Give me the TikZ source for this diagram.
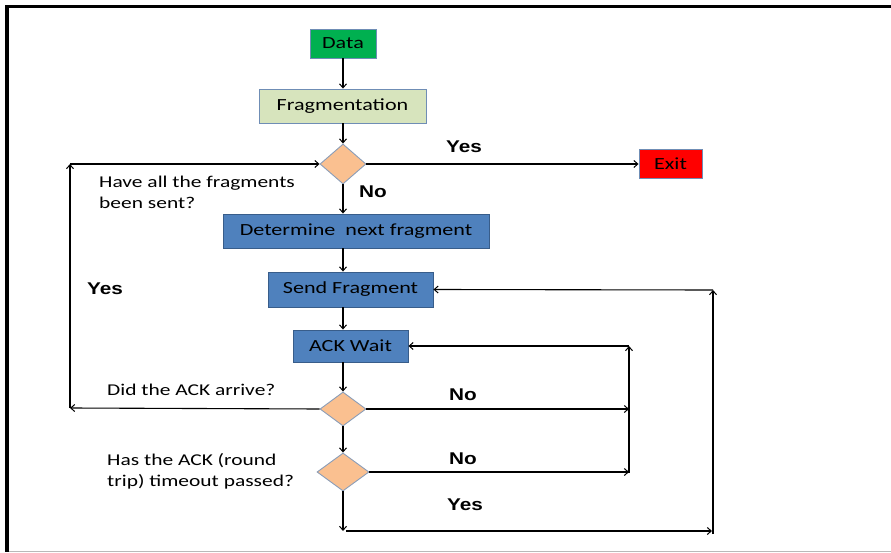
\documentclass[tikz,border=0pt]{standalone}
\usepackage{fontspec}
\setmainfont[FakeStretch=1.3]{Carlito}
\newfontfamily\labfont[FakeStretch=1.22]{Liberation Sans}
\usetikzlibrary{arrows.meta,shapes.geometric}
\definecolor{cgreen}{HTML}{00B050}
\definecolor{clight}{HTML}{D7E4BD}
\definecolor{cred}{HTML}{FF0000}
\definecolor{cblue}{HTML}{4F81BD}
\definecolor{cblueb}{HTML}{385D8A}
\definecolor{corange}{HTML}{FAC090}
\definecolor{cgrayb}{HTML}{8A9DB8}
\definecolor{cboxb}{HTML}{6F8DB5}
\tikzset{
  box/.style={draw=cboxb, line width=0.9pt, inner sep=0pt, text=black},
  bluebox/.style={box, draw=cblueb, fill=cblue},
  dec/.style={diamond, draw=cgrayb, line width=0.9pt, fill=corange, inner sep=0pt},
  arr/.style={line width=1.1pt, -{Straight Barb[length=4pt,width=7pt,line width=1pt]}},
  ln/.style={line width=1.1pt},
  yn/.style={font=\labfont\bfseries\fontsize{17}{20}\selectfont, inner sep=0pt},
  lbl/.style={anchor=west, align=left, inner sep=0pt, font=\fontsize{16.5}{21}\selectfont}
}
\begin{document}
\begin{tikzpicture}[x=1pt,y=-1pt,font=\fontsize{17}{21}\selectfont]
\useasboundingbox (0,0) rectangle (891,553);
% frame
\fill[black] (5,5) rectangle (891,8.5);
\fill[black] (5,5) rectangle (9,552);
\draw[gray!55, line width=1.5pt] (9,551.5) -- (891,551.5);

% nodes
\node[box, fill=cgreen, minimum width=66pt, minimum height=29pt] (data) at (343,43.5) {Data};
\node[box, fill=clight, minimum width=167pt, minimum height=34pt] (frag) at (342.5,106) {Fragmentation};
\node[dec, minimum width=46pt, minimum height=40pt] (d1) at (343,164) {};
\node[box, fill=cred, minimum width=63pt, minimum height=29pt] (exit) at (670.5,164) {Exit};
\node[bluebox, minimum width=266pt, minimum height=34pt] (det) at (356,231) {Determine\ \ next fragment};
\node[bluebox, minimum width=165pt, minimum height=35pt] (send) at (350.5,289.5) {Send Fragment};
\node[bluebox, minimum width=115pt, minimum height=32pt] (ack) at (350.5,346) {ACK Wait};
\node[dec, minimum width=46pt, minimum height=34pt] (d2) at (343,409) {};
\node[dec, minimum width=52pt, minimum height=38pt] (d3) at (343,472) {};

% labels
\node[lbl] (q1) at (99,192.5) {Have all the fragments\\been sent?};
\node[lbl] (q2) at (107,390) {Did the ACK arrive?};
\node[lbl] (q3) at (107,471) {Has the ACK (round\\trip) timeout passed?};
\node[yn] (yes1) at (464,147) {Yes};
\node[yn] (no1) at (373,192) {No};
\node[yn] (yes2) at (105,289) {Yes};
\node[yn] (no2) at (463,395) {No};
\node[yn] (no3) at (463,459) {No};
\node[yn] (yes3) at (465,505) {Yes};

% coordinates
\coordinate (bl) at (343,531);
\coordinate (br) at (712,531);
\coordinate (rb) at (713,534);
\coordinate (rt) at (713,290);
\coordinate (m2) at (629,409);
\coordinate (m3) at (629,472);
\coordinate (mb) at (629,473);
\coordinate (mt) at (629,346);
\coordinate (lb) at (70,408);
\coordinate (lt) at (70,164);

% main column
\draw[arr] (data.south) -- (data.south |- frag.north);
\draw[arr] (d1 |- frag.south) -- (d1.north);
\draw[arr] (d1.east) -- (exit.west);
\draw[arr] (d1.south) -- (d1.south |- det.north);
\draw[arr] (d1 |- det.south) -- (d1 |- send.north);
\draw[arr] (d1 |- send.south) -- (d1 |- ack.north);
\draw[arr] (d1 |- ack.south) -- (d2.north);
\draw[arr] (d2.south) -- (d3.north);
\draw[arr] (d3.south) -- (bl);
\draw[arr] ([xshift=3pt]bl) -- (br);
% right loop
\draw[arr] (rb) -- (rt);
\draw[arr] (rt) -- (send.east);
% middle loop
\draw[arr] (d2.east) -- (m2);
\draw[arr] (d3.east) -- (m3);
\draw[arr] (mb) -- (mt);
\draw[arr] (mt) -- (ack.east);
% left loop
\draw[arr] (d2.west) -- (lb);
\draw[arr] (lb) -- (lt);
\draw[arr] (lt) -- (d1.west);
\end{tikzpicture}
\end{document}
